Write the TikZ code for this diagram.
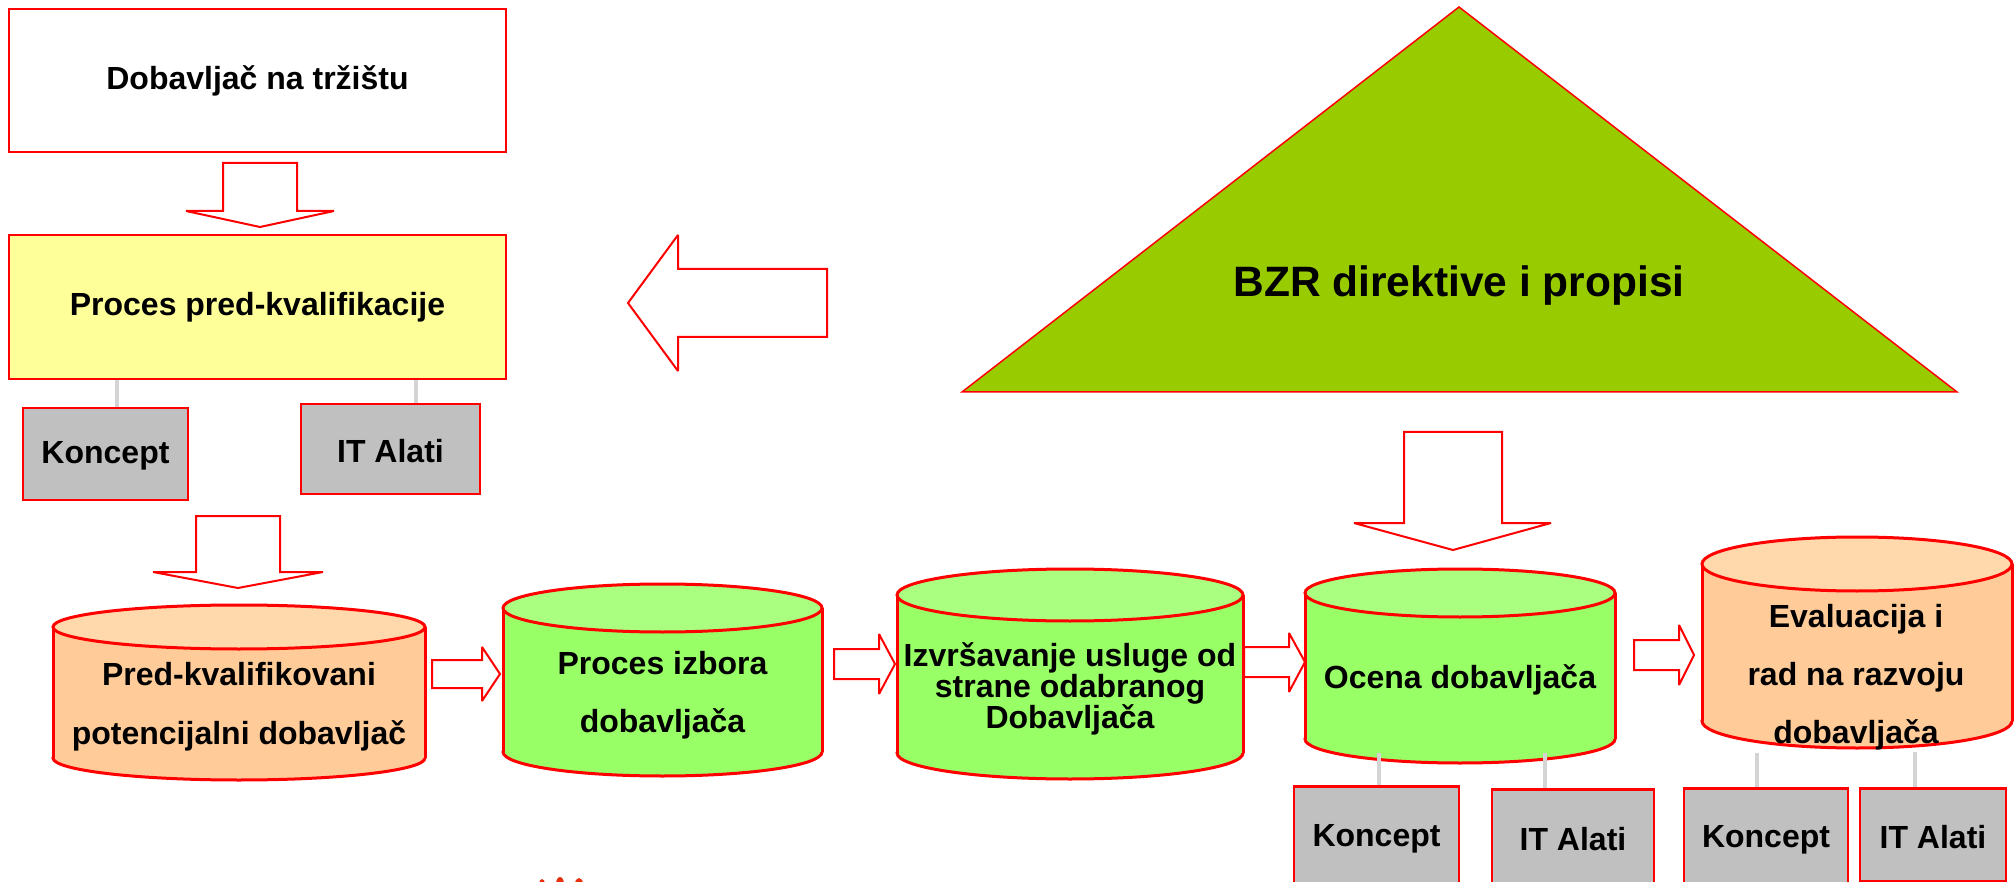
\documentclass[tikz,border=0pt]{standalone}
\usepackage{fontspec}
\setmainfont{Liberation Sans}
\usetikzlibrary{calc}
\definecolor{cylOrange}{HTML}{FFCC99}
\definecolor{cylOrangeTop}{HTML}{FFD8AC}
\definecolor{cylGreen}{HTML}{99FF66}
\definecolor{cylGreenTop}{HTML}{AAFF80}
\definecolor{triGreen}{HTML}{99CC00}
\definecolor{boxYellow}{HTML}{FFFF99}
\definecolor{boxGray}{HTML}{C0C0C0}
\definecolor{connGray}{HTML}{D4D4D4}
\definecolor{flameRed}{HTML}{E8300C}
% cylinder: cx, ytop, ybot, rx, ry, side colour, top colour
\newcommand{\mycyl}[7]{%
  \filldraw[fill=#6, draw=red, line width=3pt] (#1,#3) ellipse [x radius=#4pt, y radius=#5pt];
  \fill[#6] (#1-#4,#2) rectangle (#1+#4,#3);
  \draw[red, line width=3pt] (#1-#4,#2) -- (#1-#4,#3) (#1+#4,#2) -- (#1+#4,#3);
  \filldraw[fill=#7, draw=red, line width=3pt] (#1,#2) ellipse [x radius=#4pt, y radius=#5pt];
}
\begin{document}
\begin{tikzpicture}[x=1pt,y=-1pt,
  txt/.style={font=\fontsize{32}{38}\selectfont\bfseries, align=center, inner sep=0pt},
  framebox/.style={draw=red, line width=2.5pt, rectangle, inner sep=0pt,
     font=\fontsize{32}{38}\selectfont\bfseries, align=center},
  graybox/.style={draw=red, fill=boxGray, line width=2.5pt, rectangle, inner sep=0pt},
  conn/.style={draw=connGray, line width=4pt},
  barrow/.style={draw=red, fill=white, line width=2pt, line join=miter, miter limit=2.5}]
\useasboundingbox (0,0) rectangle (2014,882);
\clip (0,0) rectangle (2014,882);

% ---------- top left boxes ----------
\node[framebox, fill=white, minimum width=497pt, minimum height=143pt] (sup) at (257.5,80.5) {Dobavljač na tržištu};
\node[framebox, fill=boxYellow, minimum width=497pt, minimum height=144pt] (pq) at (257.5,307) {Proces pred-kvalifikacije};

\node[graybox, minimum width=165pt, minimum height=92pt] (k1) at (105.5,454) {};
\node[txt] (k1t) at (105.5,456) {Koncept};
\node[graybox, minimum width=179pt, minimum height=90pt] (i1) at (390.5,449) {};
\node[txt] (i1t) at (390.5,451) {IT Alati};

\coordinate (g1) at (117,0);
\coordinate (g2) at (416,0);
\draw[conn] (pq.south -| g1) -- (k1.north -| g1);
\draw[conn] (pq.south -| g2) -- (i1.north -| g2);

% down arrows
\draw[barrow] (223,163) -- (297,163) -- (297,211) -- (334,211) -- (260,227) -- (186,211) -- (223,211) -- cycle;
\draw[barrow] (196,516) -- (280,516) -- (280,572) -- (323,572) -- (238,588) -- (153,572) -- (196,572) -- cycle;
\draw[barrow] (1404,432) -- (1502,432) -- (1502,523) -- (1551,523) -- (1453,550) -- (1354,523) -- (1404,523) -- cycle;

% big left arrow
\draw[barrow] (628,303) -- (678,235) -- (678,269) -- (827,269) -- (827,337) -- (678,337) -- (678,371) -- cycle;

% ---------- triangle ----------
\filldraw[fill=triGreen, draw=red, line width=1.5pt] (1459,7) -- (1957,392) -- (962,392) -- cycle;
\node[font=\fontsize{42.5}{50}\selectfont\bfseries, inner sep=0pt] (bzr) at (1459,286) {BZR direktive i propisi};

% ---------- cylinders ----------
\mycyl{239}{627}{758}{186}{22}{cylOrange}{cylOrangeTop}
\node[txt, font=\fontsize{32}{59}\selectfont\bfseries] (c1) at (239,707) {Pred-kvalifikovani\\potencijalni dobavljač};

\mycyl{662.5}{608}{752}{159.5}{24}{cylGreen}{cylGreenTop}
\node[txt, font=\fontsize{32}{58}\selectfont\bfseries] (c2) at (662.5,695) {Proces izbora\\dobavljača};

\mycyl{1070}{595}{753}{173}{26}{cylGreen}{cylGreenTop}
\node[txt, font=\fontsize{32}{31}\selectfont\bfseries] (c3) at (1070,689) {Izvršavanje usluge od\\strane odabranog\\Dobavljača};

\mycyl{1460}{593}{739}{155}{24}{cylGreen}{cylGreenTop}
\node[txt] (c4) at (1460,680) {Ocena dobavljača};

\mycyl{1857}{564}{721}{155}{27}{cylOrange}{cylOrangeTop}
\node[txt, font=\fontsize{32}{58}\selectfont\bfseries] (c5) at (1856,677) {Evaluacija i\\rad na razvoju\\dobavljača};

% right arrows
\draw[barrow] (432,660) -- (482,660) -- (482,647) -- (500,674) -- (482,701) -- (482,688) -- (432,688) -- cycle;
\draw[barrow] (834,649) -- (879,649) -- (879,634) -- (895,664) -- (879,694) -- (879,679) -- (834,679) -- cycle;
\draw[barrow] (1244,647) -- (1289,647) -- (1289,633) -- (1305,662) -- (1289,692) -- (1289,677) -- (1244,677) -- cycle;
\draw[barrow] (1634,640) -- (1679,640) -- (1679,625) -- (1694,655) -- (1679,685) -- (1679,670) -- (1634,670) -- cycle;

% ---------- bottom boxes ----------
\node[graybox, anchor=north, minimum width=165pt, minimum height=115pt] (k3) at (1376.5,785) {};
\node[txt] (k3t) at (1376.5,839) {Koncept};
\node[graybox, anchor=north, minimum width=162pt, minimum height=115pt] (i3) at (1573,788) {};
\node[txt] (i3t) at (1573,839) {IT Alati};
\node[graybox, anchor=north, minimum width=164pt, minimum height=115pt] (k4) at (1766,787) {};
\node[txt] (k4t) at (1766,840) {Koncept};
\node[graybox, anchor=north, minimum width=146pt, minimum height=93pt] (i4) at (1933,787) {};
\node[txt] (i4t) at (1933,837) {IT Alati};

\coordinate (g3) at (1379,0);
\coordinate (g4) at (1545,0);
\coordinate (g5) at (1757,0);
\coordinate (g6) at (1915,0);
\draw[conn] (k3.north -| g3) -- ++(0,-32);
\draw[conn] (i3.north -| g4) -- ++(0,-35);
\draw[conn] (k4.north -| g5) -- ++(0,-34);
\draw[conn] (i4.north -| g6) -- ++(0,-35);

% small clipped red shape at the bottom
\fill[flameRed] (542,884) ellipse [x radius=3pt, y radius=5pt];
\fill[flameRed] (560,884) ellipse [x radius=4pt, y radius=7pt];
\fill[flameRed] (579,884) ellipse [x radius=4pt, y radius=6pt];
\end{tikzpicture}
\end{document}
